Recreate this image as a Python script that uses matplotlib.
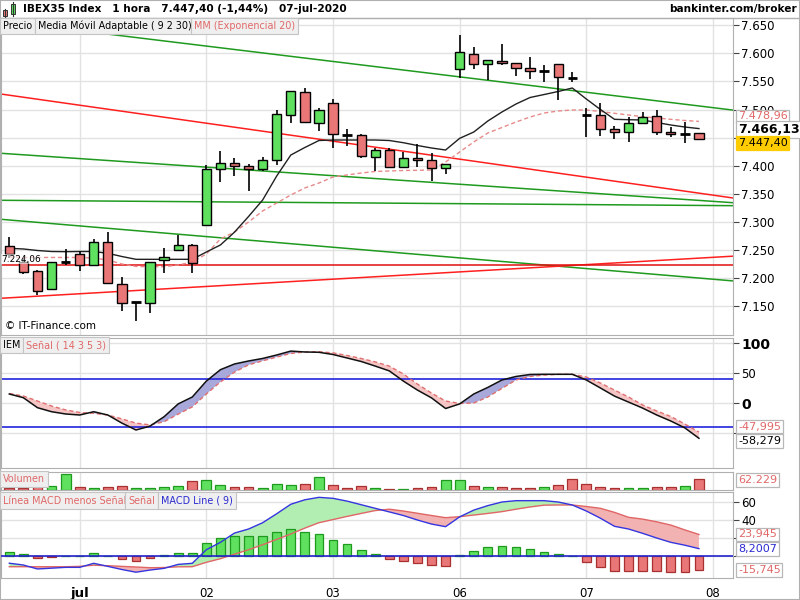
import matplotlib.pyplot as plt
import matplotlib.patches as patches
from matplotlib.lines import Line2D
from matplotlib.ticker import FuncFormatter
import numpy as np

plt.rcParams['font.family'] = ['DejaVu Sans']

W, H = 800, 600

# velas horarias: 30-jun 13h ... 07-jul 17h
opens = [7257.8, 7229.4, 7212.8, 7180.3, 7228.5, 7242.5, 7223.5, 7263.9, 7189.2, 7158.3,
         7155.5, 7232.4, 7250.2, 7259.1, 7294.7, 7393.7, 7404.4, 7399.6, 7393.7, 7410.3,
         7489.7, 7531.2, 7475.5, 7511.1, 7454.7, 7454.2, 7416.1, 7428.0, 7398.3, 7413.8,
         7409.7, 7395.5, 7571.6, 7598.2, 7580.4, 7585.8, 7582.2, 7573.3, 7568.0, 7580.4,
         7555.6, 7490.3, 7490.3, 7465.4, 7459.5, 7475.5, 7489.0, 7459.5, 7456.5, 7457.7]
highs = [7272.8, 7235.9, 7214.6, 7229.4, 7251.5, 7248.4, 7269.8, 7281.7, 7202.7, 7158.3,
         7229.4, 7253.2, 7276.9, 7260.9, 7401.4, 7426.8, 7413.3, 7403.2, 7416.1, 7499.2,
         7532.4, 7537.8, 7502.7, 7518.7, 7465.4, 7456.5, 7431.0, 7431.0, 7425.0, 7438.2,
         7422.2, 7402.6, 7632.6, 7611.7, 7587.6, 7616.5, 7582.2, 7594.0, 7579.2, 7580.4,
         7566.2, 7502.2, 7511.1, 7470.2, 7486.2, 7495.1, 7499.2, 7468.4, 7478.4, 7457.7]
lows = [7236.0, 7207.0, 7170.2, 7180.3, 7223.5, 7213.4, 7223.5, 7189.2, 7142.3, 7124.5,
        7138.7, 7209.8, 7250.2, 7209.8, 7294.7, 7371.6, 7382.3, 7355.6, 7391.2, 7401.4,
        7475.5, 7475.5, 7462.4, 7431.0, 7435.7, 7414.3, 7391.2, 7397.3, 7395.5, 7398.3,
        7373.4, 7385.4, 7555.6, 7571.6, 7552.5, 7579.2, 7560.2, 7554.3, 7549.5, 7516.4,
        7548.4, 7451.7, 7453.5, 7447.1, 7441.7, 7475.5, 7454.2, 7450.6, 7439.9, 7445.3]
closes = [7242.5, 7211.6, 7177.3, 7228.3, 7228.5, 7223.5, 7263.9, 7191.0, 7155.5, 7158.3,
          7229.4, 7237.2, 7259.1, 7226.5, 7393.7, 7404.4, 7399.6, 7393.7, 7410.3, 7491.5,
          7532.4, 7477.3, 7499.2, 7455.9, 7454.7, 7417.9, 7428.0, 7398.3, 7413.3, 7409.7,
          7396.0, 7402.6, 7601.8, 7580.4, 7587.6, 7582.2, 7573.3, 7568.0, 7568.0, 7557.3,
          7555.6, 7490.3, 7464.9, 7460.0, 7475.5, 7487.3, 7459.5, 7455.9, 7456.5, 7447.4]

# Media Movil Adaptable (9 2 30)
ama = [7253.2, 7252.0, 7249.3, 7247.5, 7247.2, 7247.5, 7247.5, 7244.3, 7238.6, 7233.6,
       7233.6, 7233.6, 7233.6, 7233.6, 7246.6, 7259.1, 7281.9, 7309.8, 7339.1, 7381.8,
       7419.1, 7432.5, 7444.9, 7445.8, 7445.8, 7445.8, 7445.8, 7444.9, 7441.0, 7436.0,
       7431.6, 7428.0, 7448.8, 7460.0, 7479.6, 7495.6, 7509.8, 7521.4, 7526.7, 7532.1,
       7538.3, 7518.7, 7500.1, 7482.6, 7481.9, 7481.4, 7476.9, 7472.5, 7468.9, 7466.13]
# MM exponencial 20
ema20 = [7237.7, 7236.9, 7236.9, 7236.9, 7236.9, 7236.9, 7236.0, 7232.4, 7225.3, 7220.9,
         7220.5, 7220.5, 7223.5, 7228.9, 7243.1, 7269.8, 7282.2, 7300.0, 7319.6, 7333.8,
         7348.0, 7360.5, 7369.3, 7380.0, 7383.6, 7387.1, 7389.8, 7390.7, 7391.6, 7391.9,
         7392.5, 7406.7, 7424.5, 7442.3, 7458.3, 7468.0, 7477.8, 7486.7, 7493.8, 7497.4,
         7499.2, 7499.2, 7496.5, 7493.3, 7490.3, 7487.3, 7485.0, 7482.6, 7480.5, 7478.96]

# lineas de tendencia: (x0, p0, x1, p1) en indice de vela y precio
green_lines = [(6.4, 7636.0, 51.42, 7499.0),
               (-0.6, 7422.2, 51.42, 7334.3),
               (-0.6, 7338.6, 51.42, 7329.0),
               (-0.6, 7304.8, 51.42, 7195.2)]
red_lines = [(-0.6, 7527.6, 51.42, 7342.7),
             (-0.6, 7164.3, 51.42, 7239.2)]
support = 7224.06

volume = [9900, 9900, 19200, 23300, 91300, 15700, 11600, 17400, 21500, 11600,
          11600, 17400, 21500, 52300, 56400, 27300, 15700, 15700, 9900, 33100,
          27300, 33100, 73900, 27300, 9900, 21500, 9900, 4100, 4100, 9900,
          15700, 56400, 56400, 21500, 15700, 15700, 9900, 9900, 15700, 27300,
          62200, 33100, 15700, 9900, 9900, 9900, 15700, 15700, 21500, 62229]
vol_up = [0, 0, 0, 1, 1, 0, 1, 0, 0, 1, 1, 1, 1, 0, 1, 1, 0, 0, 1, 1,
          1, 0, 1, 0, 0, 0, 1, 0, 1, 0, 0, 1, 1, 0, 1, 0, 0, 0, 1, 0,
          0, 0, 0, 0, 1, 1, 0, 0, 1, 0]

iem = [15.5, 9.3, -7.3, -14.0, -17.8, -19.5, -14.0, -19.5, -33.0, -44.5,
       -38.0, -22.3, -1.0, 10.5, 37.0, 56.0, 65.5, 70.5, 74.7, 80.5,
       87.0, 85.5, 85.0, 81.3, 75.5, 69.7, 62.0, 54.0, 37.0, 22.0,
       9.0, -8.7, -1.0, 15.5, 26.5, 38.8, 44.7, 48.0, 48.3, 48.3,
       48.3, 38.8, 25.5, 12.0, 2.0, -8.0, -19.5, -29.5, -41.0, -58.279]
iem_signal = [16.3, 12.2, 3.8, -4.5, -11.0, -15.3, -16.7, -19.5, -26.0, -33.0,
              -36.0, -30.7, -18.0, -6.0, 15.5, 35.5, 52.0, 64.0, 70.7, 77.0,
              83.0, 85.5, 86.0, 84.0, 79.7, 74.7, 69.0, 62.0, 48.8, 32.0,
              17.0, 3.8, -0.3, 0.5, 10.5, 24.7, 38.8, 44.7, 47.0, 48.3,
              48.3, 43.8, 33.8, 22.0, 10.5, -2.8, -12.8, -22.0, -34.5, -47.995]

macd = [-8.0, -10.0, -14.4, -13.5, -12.6, -12.6, -8.1, -11.5, -15.0, -18.0,
        -15.6, -13.7, -9.3, -8.1, 7.0, 15.2, 25.5, 30.0, 37.0, 47.0,
        57.5, 62.5, 65.2, 64.1, 61.0, 57.0, 53.0, 49.0, 45.0, 40.0,
        35.5, 32.6, 43.5, 51.0, 56.0, 60.0, 61.5, 61.5, 61.5, 60.0,
        56.7, 50.0, 42.0, 33.0, 30.0, 25.2, 20.0, 15.2, 12.0, 8.2007]
macd_signal = [-11.9, -11.9, -11.9, -11.9, -11.9, -11.5, -10.2, -10.8, -11.5, -12.2,
               -13.0, -12.8, -12.0, -11.9, -7.0, -3.0, 2.0, 7.0, 12.5, 18.5,
               24.5, 31.0, 37.0, 40.5, 44.0, 47.3, 50.5, 52.0, 50.0, 47.5,
               45.0, 42.6, 43.7, 45.5, 47.3, 49.3, 52.0, 54.5, 56.5, 56.7,
               56.7, 55.0, 53.0, 48.5, 43.0, 41.0, 38.0, 34.4, 29.0, 23.945]
macd_hist = [4.1, 1.9, -2.6, -1.5, 0.0, 0.0, 3.0, 0.0, -3.7, -5.6,
             -2.6, 1.1, 3.0, 3.0, 14.1, 19.6, 22.6, 22.6, 22.6, 26.3,
             30.0, 26.3, 24.1, 17.4, 13.0, 6.3, 1.9, -3.7, -5.6, -8.1,
             -10.0, -11.1, 1.1, 5.9, 9.6, 11.1, 9.6, 7.4, 4.8, 1.9,
             0.0, -7.0, -12.6, -16.3, -16.3, -16.3, -16.3, -18.1, -17.4, -15.745]

day_ticks = [5, 14, 23, 32, 41, 50]
day_labels = ['jul', '02', '03', '06', '07', '08']

GREEN = '#5fe05f'
RED = '#e97777'
GRID = '#e2e2e2'
PINK = '#e06868'


def px(x, y):
    return x / W, 1 - y / H


def panel(top, bottom):
    l, b = px(1, bottom)
    return fig.add_axes([l, b, 732 / W, (bottom - top) / H])


def style(ax):
    for s in ax.spines.values():
        s.set_color('#b0b0b0')
    ax.set_xlim(-0.59, 51.42)
    ax.set_xticks(day_ticks)
    ax.tick_params(axis='x', length=0, labelbottom=False)
    ax.yaxis.tick_right()
    ax.tick_params(axis='y', length=4, color='#444444', pad=2, labelsize=8.5)
    ax.grid(True, color=GRID, lw=1)
    ax.set_axisbelow(True)


def tag(x, y, s, color='black', size=6.9):
    fig.text(*px(x, y), s, color=color, fontsize=size, ha='left', va='center',
             bbox=dict(boxstyle='square,pad=0.32', fc='#efefef', ec='#c4c4c4', lw=0.8))


def value_box(y, s, color='black', fc='white', ec='#b8b8b8', size=8, weight='normal'):
    fig.text(*px(738, y), s, color=color, fontsize=size, fontweight=weight, ha='left',
             va='center', zorder=10,
             bbox=dict(boxstyle='square,pad=0.15', fc=fc, ec=ec, lw=0.9))


def price_fmt(v, p):
    if abs(v - 7450) < 1:
        return ''
    return f'{v / 1000:.3f}'


fig = plt.figure(figsize=(8, 6), dpi=100)
idx = np.arange(len(closes))

# ---------------- precio
ax = panel(18, 335)
style(ax)
ax.set_ylim(7099.0, 7662.8)
ax.set_yticks(np.arange(7150, 7700, 50))
ax.yaxis.set_major_formatter(FuncFormatter(price_fmt))

for x0, p0, x1, p1 in green_lines:
    ax.plot([x0, x1], [p0, p1], color='#1f9a1f', lw=1.1, zorder=2)
for x0, p0, x1, p1 in red_lines:
    ax.plot([x0, x1], [p0, p1], color='#ff1f1f', lw=1.1, zorder=2)
ax.axhline(support, color='#e01010', lw=1.1, zorder=2)

ax.plot(idx, ema20, color='#e88a8a', lw=1, dashes=(3, 2), zorder=3)
ax.plot(idx, ama, color='#202020', lw=1, zorder=3)

body_w = 0.66
for i in idx:
    o, h, l, c = opens[i], highs[i], lows[i], closes[i]
    ax.vlines(i, l, h, color='black', lw=1.2, zorder=4)
    if abs(c - o) < 1.0:
        ax.hlines(c, i - body_w / 2, i + body_w / 2, color='black', lw=2, zorder=5)
    else:
        ax.bar(i, abs(c - o), bottom=min(o, c), width=body_w,
               color=GREEN if c > o else RED, edgecolor='black', lw=1, zorder=5)

ax.text(0.005, 0.018, '© IT-Finance.com', transform=ax.transAxes, fontsize=7.5, zorder=6)
ax.text(-0.55, support + 10, '7.224,06', fontsize=6.5, va='center', zorder=6,
        bbox=dict(boxstyle='square,pad=0.05', fc='white', ec='none', alpha=0.6))

# ---------------- IEM
ax2 = panel(337.7, 468.3)
style(ax2)
ax2.set_ylim(-108.3, 109.3)
ax2.set_yticks([100, 50, 0, -50], labels=['100', '50', '0', ''])
for lab in ax2.get_yticklabels():
    if lab.get_text() in ('100', '0'):
        lab.set_fontweight('bold')
        lab.set_fontsize(10)
ax2.axhline(40, color='#2323dd', lw=1.2)
ax2.axhline(-40, color='#2323dd', lw=1.2)
iem_a, sig_a = np.array(iem), np.array(iem_signal)
ax2.fill_between(idx, iem_a, sig_a, where=iem_a >= sig_a, interpolate=True,
                 color='#a8a8da', lw=0)
ax2.fill_between(idx, iem_a, sig_a, where=iem_a < sig_a, interpolate=True,
                 color='#f5c4c4', lw=0)
ax2.plot(idx, iem_signal, color='#e07070', lw=1, dashes=(3, 2))
ax2.plot(idx, iem, color='#111111', lw=1.1)

# ---------------- volumen
ax3 = panel(471.7, 489.5)
style(ax3)
ax3.set_ylim(0, 104700)
ax3.set_yticks([])
ax3.grid(True, axis='x', color=GRID)
ax3.grid(False, axis='y')
ax3.bar(idx, volume, width=0.7,
        color=[GREEN if u else RED for u in vol_up],
        edgecolor=['#1f9a1f' if u else '#a83030' for u in vol_up], lw=0.9)

# ---------------- MACD
ax4 = panel(492.3, 577.7)
style(ax4)
ax4.set_ylim(-24.1, 70.8)
ax4.set_yticks([60, 40, 20, 0], labels=['60', '40', '', ''])
hist = np.array(macd_hist)
ax4.bar(idx, hist, width=0.62, color=np.where(hist >= 0, GREEN, RED),
        edgecolor=np.where(hist >= 0, '#1f9a1f', '#a83030'), lw=0.9, zorder=2)
m_a, s_a = np.array(macd), np.array(macd_signal)
ax4.fill_between(idx, m_a, s_a, where=m_a >= s_a, interpolate=True,
                 color='#b2eeb2', lw=0, zorder=1)
ax4.fill_between(idx, m_a, s_a, where=m_a < s_a, interpolate=True,
                 color='#f2b2b2', lw=0, zorder=1)
ax4.plot(idx, macd_signal, color='#e06666', lw=1, zorder=3)
ax4.plot(idx, macd, color='#3535e0', lw=1, zorder=3)
ax4.axhline(0, color='#2323cc', lw=1.2, zorder=3)
ax4.tick_params(axis='x', labelbottom=True, pad=7, labelsize=8.5)
ax4.set_xticklabels(day_labels)
ax4.get_xticklabels()[0].set_fontweight('bold')
ax4.get_xticklabels()[0].set_fontsize(9.5)

# ---------------- cabecera y leyendas
fig.add_artist(Line2D([0, 1], [1 - 18 / H] * 2, color='#b0b0b0', lw=1))
fig.add_artist(patches.Rectangle((0, 0), 1, 1, transform=fig.transFigure,
                                 fill=False, ec='#b0b0b0', lw=1.5))
fig.add_artist(Line2D([px(5, 0)[0]] * 2, [px(0, 9)[1], px(0, 17)[1]], color='#333', lw=0.8))
fig.add_artist(patches.Rectangle(px(3, 16), 4 / W, 6 / H, transform=fig.transFigure,
                                 fc=RED, ec='#333', lw=0.7))
fig.add_artist(Line2D([px(13, 0)[0]] * 2, [px(0, 2)[1], px(0, 16)[1]], color='#333', lw=0.8))
fig.add_artist(patches.Rectangle(px(11, 14), 4 / W, 10 / H, transform=fig.transFigure,
                                 fc=GREEN, ec='#333', lw=0.7))
fig.text(*px(23, 9), 'IBEX35 Index   1 hora   7.447,40 (-1,44%)   07-jul-2020',
         fontsize=7.6, fontweight='bold', va='center')
fig.text(*px(797, 9), 'bankinter.com/broker', fontsize=7.6, fontweight='bold',
         va='center', ha='right')

tag(3, 26, 'Precio')
tag(38, 26, 'Media Móvil Adaptable ( 9 2 30)')
tag(194, 26, 'MM (Exponencial 20)', color=PINK)
tag(3, 345, 'IEM')
tag(26, 345, 'Señal ( 14 3 5 3)', color=PINK)
tag(3, 479, 'Volumen', color=PINK)
tag(3, 500.5, 'Línea MACD menos Señal', color=PINK)
tag(128, 500.5, 'Señal', color=PINK)
tag(161, 500.5, 'MACD Line ( 9)', color='#2a2ad0')

value_box(116.5, '7.478,96', color=PINK)
value_box(129.5, '7.466,13', size=9, weight='bold')
value_box(143, '7.447,40', fc='#ffcc00', ec='#ffcc00')
value_box(426.7, '-47,995', color=PINK)
value_box(441, '-58,279')
value_box(480, '62.229', color=PINK)
value_box(534.3, '23,945', color=PINK)
value_box(549, '8,2007', color='#2a2ad0')
value_box(570, '-15,745', color=PINK)

fig.savefig('out.png', dpi=100)
